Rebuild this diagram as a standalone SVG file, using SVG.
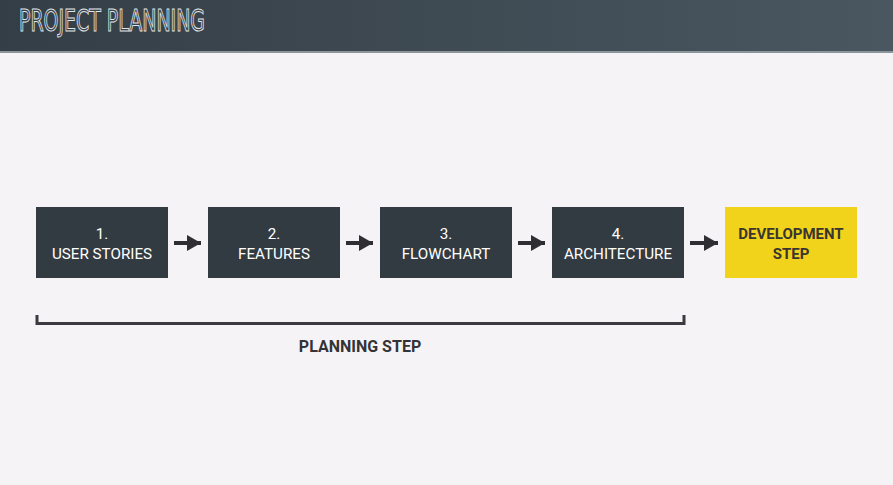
<svg xmlns="http://www.w3.org/2000/svg" width="893" height="485" viewBox="0 0 893 485">
<defs>
<linearGradient id="hdr" x1="0" y1="0" x2="1" y2="0">
<stop offset="0" stop-color="#343e46"/>
<stop offset="1" stop-color="#4a5760"/>
</linearGradient>
<marker id="ah" viewBox="0 0 14 16" refX="14" refY="8" markerWidth="14" markerHeight="16" markerUnits="userSpaceOnUse" orient="auto">
<path d="M0,0 L14,8 L0,16 Z" fill="#2f2f33"/>
</marker>
<style>
.box{fill:#333b42}
.dev{fill:#f2d31b}
.lbl{font-family:Roboto,"Liberation Sans",sans-serif;font-size:15.2px;font-weight:400;fill:#ffffff;text-anchor:middle}
.dlbl{font-family:Roboto,"Liberation Sans",sans-serif;font-size:15px;font-weight:700;fill:#3a3530;text-anchor:middle}
.arr{stroke:#2f2f33;stroke-width:4;fill:none;marker-end:url(#ah)}
</style>
</defs>
<rect width="893" height="485" fill="#f5f3f6"/>
<rect width="893" height="52" fill="url(#hdr)"/>
<rect y="51" width="893" height="2" fill="#8c959b"/>
<text x="19" y="31" font-family="'DejaVu Sans Condensed','DejaVu Sans',sans-serif" font-size="30" font-weight="300" fill="none" stroke="#e2e6e9" stroke-width="1" textLength="186" lengthAdjust="spacingAndGlyphs">PROJECT PLANNING</text>

<g id="connectors">
<line class="arr" x1="174" y1="243" x2="201" y2="243"/>
<line class="arr" x1="346" y1="243" x2="373" y2="243"/>
<line class="arr" x1="518" y1="243" x2="545" y2="243"/>
<line class="arr" x1="690" y1="243" x2="718" y2="243"/>
</g>

<g id="n1"><rect class="box" x="36" y="207" width="132" height="71"/><text class="lbl" x="102" y="239">1.</text><text class="lbl" x="102" y="259">USER STORIES</text></g>
<g id="n2"><rect class="box" x="208" y="207" width="132" height="71"/><text class="lbl" x="274" y="239">2.</text><text class="lbl" x="274" y="259">FEATURES</text></g>
<g id="n3"><rect class="box" x="380" y="207" width="132" height="71"/><text class="lbl" x="446" y="239">3.</text><text class="lbl" x="446" y="259">FLOWCHART</text></g>
<g id="n4"><rect class="box" x="552" y="207" width="132" height="71"/><text class="lbl" x="618" y="239">4.</text><text class="lbl" x="618" y="259">ARCHITECTURE</text></g>
<g id="n5"><rect class="dev" x="725" y="207" width="132" height="71"/><text class="dlbl" x="791" y="239">DEVELOPMENT</text><text class="dlbl" x="791" y="259">STEP</text></g>

<g id="bracket">
<path d="M37,315 V323.5 H684 V315" fill="none" stroke="#3a3a40" stroke-width="3"/>
<text x="360" y="352" font-family="Roboto,'Liberation Sans',sans-serif" font-size="16" font-weight="700" fill="#333338" text-anchor="middle">PLANNING STEP</text>
</g>
</svg>
